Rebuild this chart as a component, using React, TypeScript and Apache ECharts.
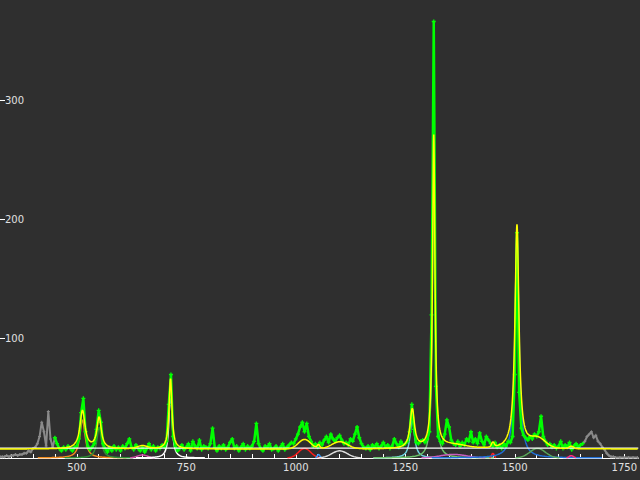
import React, { useEffect, useRef } from "react";
import * as echarts from "echarts";

// measured spectrum (green), sampled every 5 units starting at 450
const SPEC_START = 450;
const SPEC_STEP = 5;
const spectrum = [
  17, 12, 8, 6, 9, 7, 10, 8, 6, 9,
  10, 16, 38, 50, 22, 10, 7, 9, 12, 24,
  40, 30, 12, 8, 5, 9, 6, 10, 7, 9,
  6, 10, 8, 12, 16, 9, 7, 11, 8, 6,
  9, 5, 8, 12, 7, 10, 6, 9, 8, 11,
  9, 14, 45, 70, 18, 10, 6, 8, 11, 7,
  9, 12, 6, 14, 10, 8, 15, 7, 10, 9,
  8, 12, 25, 9, 6, 10, 8, 11, 7, 9,
  13, 16, 8, 10, 6, 9, 12, 7, 10, 8,
  10, 14, 29, 12, 8, 6, 10, 9, 12, 7,
  8, 10, 6, 9, 12, 7, 9, 11, 13, 12,
  16, 20, 26, 30, 22, 29, 18, 14, 10, 12,
  9, 13, 11, 15, 18, 13, 20, 16, 14, 17,
  19, 15, 12, 13, 11, 16, 14, 20, 26, 17,
  12, 9, 8, 10, 7, 11, 9, 12, 8, 10,
  13, 9, 11, 8, 10, 16, 12, 9, 14, 11,
  12, 14, 22, 45, 24, 13, 12, 14, 15, 13,
  16, 22, 120, 366, 60, 18, 14, 12, 20, 32,
  26, 15, 12, 11, 14, 10, 13, 11, 16, 14,
  22, 13, 16, 12, 21, 14, 11, 18, 15, 12,
  10, 13, 9, 11, 8, 12, 10, 14, 13, 18,
  70, 189, 55, 25, 19, 17, 15, 18, 16, 20,
  18, 22, 35, 18, 14, 11, 12, 9, 11, 8,
  10, 14, 8, 11, 9, 13, 7, 10, 12, 9,
  11, 12,
];

// excluded data (gray) on both ends
const grayLeftX = [325, 330, 335, 340, 345, 350, 355, 360, 365, 370, 375, 380, 385, 390, 395, 400, 405, 410, 415, 420, 425, 430, 435, 440, 445, 450];
const grayLeftY = [1, 1, 1, 2, 1, 2, 2, 3, 2, 3, 3, 4, 4, 6, 5, 8, 9, 12, 18, 30, 22, 10, 39, 16, 9, 17];
const grayRightX = [1655, 1660, 1665, 1670, 1675, 1680, 1685, 1690, 1695, 1700, 1705, 1710, 1715, 1720, 1725, 1730, 1740, 1750, 1760, 1770, 1780];
const grayRightY = [12, 14, 18, 20, 22, 17, 19, 14, 12, 9, 7, 4, 2, 1, 1, 0.5, 0.5, 0.5, 0.5, 0.5, 0.5];

// fitted peak components
const peakCenters = [513, 551, 650, 714, 1020, 1052, 1100, 1266, 1315, 1360, 1450, 1505, 1552, 1629];
const peakHeights = [32, 26, 2.5, 59, 8, 3, 6, 33, 262, 3, 4, 188, 8, 2];
const peakWidths = [7, 6, 12, 4, 14, 3, 18, 6, 3.3, 30, 3, 5.5, 18, 5];
const peakShapes = ["L", "L", "G", "L", "G", "G", "G", "L", "L", "G", "G", "L", "G", "G"];
const peakColors = ["#f08a1c", "#2f8f35", "#d04aa8", "#ffffff", "#ff1a1a", "#3399ff", "#dddddd", "#6fd0e0", "#6cc46c", "#c860c0", "#ff2020", "#2070d8", "#5aa85a", "#ff2a80"];
const fitBaseline = 7.5;
const whiteBaseline = 8.3;

// axis ticks
const xTickValues = [350, 400, 450, 500, 550, 600, 650, 700, 750, 800, 850, 900, 950, 1000, 1050, 1100, 1150, 1200, 1250, 1300, 1350, 1400, 1450, 1500, 1550, 1600, 1650, 1700, 1750];
const xLabelValues = [500, 750, 1000, 1250, 1500, 1750];

const X_MIN = 324.7;
const X_MAX = 1782;

function peakValue(i: number, x: number) {
  const d = (x - peakCenters[i]) / peakWidths[i];
  if (peakShapes[i] === "L") return peakHeights[i] / (1 + d * d);
  return peakHeights[i] * Math.exp(-0.5 * d * d);
}

export default function App() {
  const ref = useRef<HTMLDivElement>(null);
  useEffect(() => {
    if (!ref.current) return;
    const chart = echarts.init(ref.current, undefined, { renderer: "svg" });

    const specData = spectrum.map((v, i) => [SPEC_START + i * SPEC_STEP, v]);
    const grayL = grayLeftX.map((x, i) => [x, grayLeftY[i]]);
    const grayR = grayRightX.map((x, i) => [x, grayRightY[i]]);

    const xs: number[] = [];
    for (let x = 322; x <= X_MAX; x += 0.5) xs.push(x);

    const compSeries = peakCenters.map((_, i) => {
      const pts: number[][] = [];
      xs.forEach((x) => {
        const v = peakValue(i, x);
        if (v > 0.15) pts.push([x, v]);
      });
      return {
        type: "line",
        data: pts,
        showSymbol: false,
        lineStyle: { color: peakColors[i], width: 1.5 },
        itemStyle: { color: peakColors[i] },
        z: 2,
        silent: true,
      };
    });

    const fit = xs.map((x) => {
      let s = fitBaseline;
      for (let i = 0; i < peakCenters.length; i++) s += peakValue(i, x);
      return [x, s];
    });

    const plus = "path://M2,0h2v2h2v2h-2v2h-2v-2h-2v-2h2z";
    const labelFont = { color: "#e0e0e0", fontSize: 10, fontFamily: "DejaVu Sans" };

    chart.setOption({
      animation: false,
      backgroundColor: "#2f2f2f",
      grid: { left: 0, right: 0, top: 0, bottom: 22 },
      xAxis: {
        type: "value",
        min: X_MIN,
        max: X_MAX,
        axisLine: { show: true, lineStyle: { color: "#ffffff", width: 1 } },
        axisTick: {
          show: true,
          inside: true,
          length: 4,
          customValues: xTickValues,
          lineStyle: { color: "#ffffff" },
        },
        axisLabel: {
          ...labelFont,
          margin: 4,
          customValues: xLabelValues,
          formatter: (v: number) => String(v),
        },
        splitLine: { show: false },
      },
      yAxis: {
        type: "value",
        min: 0,
        max: 384,
        interval: 100,
        axisLine: { show: false },
        axisTick: { show: true, inside: true, length: 5, lineStyle: { color: "#ffffff" } },
        axisLabel: {
          ...labelFont,
          inside: true,
          margin: 5,
          showMaxLabel: false,
          formatter: (v: number) => (v === 0 ? "" : String(v)),
        },
        splitLine: { show: false },
      },
      series: [
        ...compSeries,
        {
          type: "line",
          data: grayL,
          symbol: plus,
          symbolSize: 3,
          showSymbol: true,
          lineStyle: { color: "#8a8a8a", width: 2 },
          itemStyle: { color: "#8a8a8a" },
          z: 3,
        },
        {
          type: "line",
          data: grayR,
          symbol: plus,
          symbolSize: 3,
          showSymbol: true,
          lineStyle: { color: "#8a8a8a", width: 2 },
          itemStyle: { color: "#8a8a8a" },
          z: 3,
        },
        {
          type: "line",
          data: specData,
          symbol: plus,
          symbolSize: 4,
          showSymbol: true,
          lineStyle: { color: "#00ff00", width: 2.5 },
          itemStyle: { color: "#00ff00" },
          z: 3,
        },
        {
          type: "line",
          data: [[X_MIN, whiteBaseline], [X_MAX, whiteBaseline]],
          showSymbol: false,
          lineStyle: { color: "#ffffff", width: 1.2 },
          z: 4,
        },
        {
          type: "line",
          data: fit,
          showSymbol: false,
          lineStyle: { color: "#ffff00", width: 1.5 },
          z: 5,
        },
      ],
    });
    return () => chart.dispose();
  }, []);
  return (
    <div
      ref={ref}
      style={{ position: "fixed", left: 0, top: 0, width: 640, height: 480 }}
    />
  );
}
